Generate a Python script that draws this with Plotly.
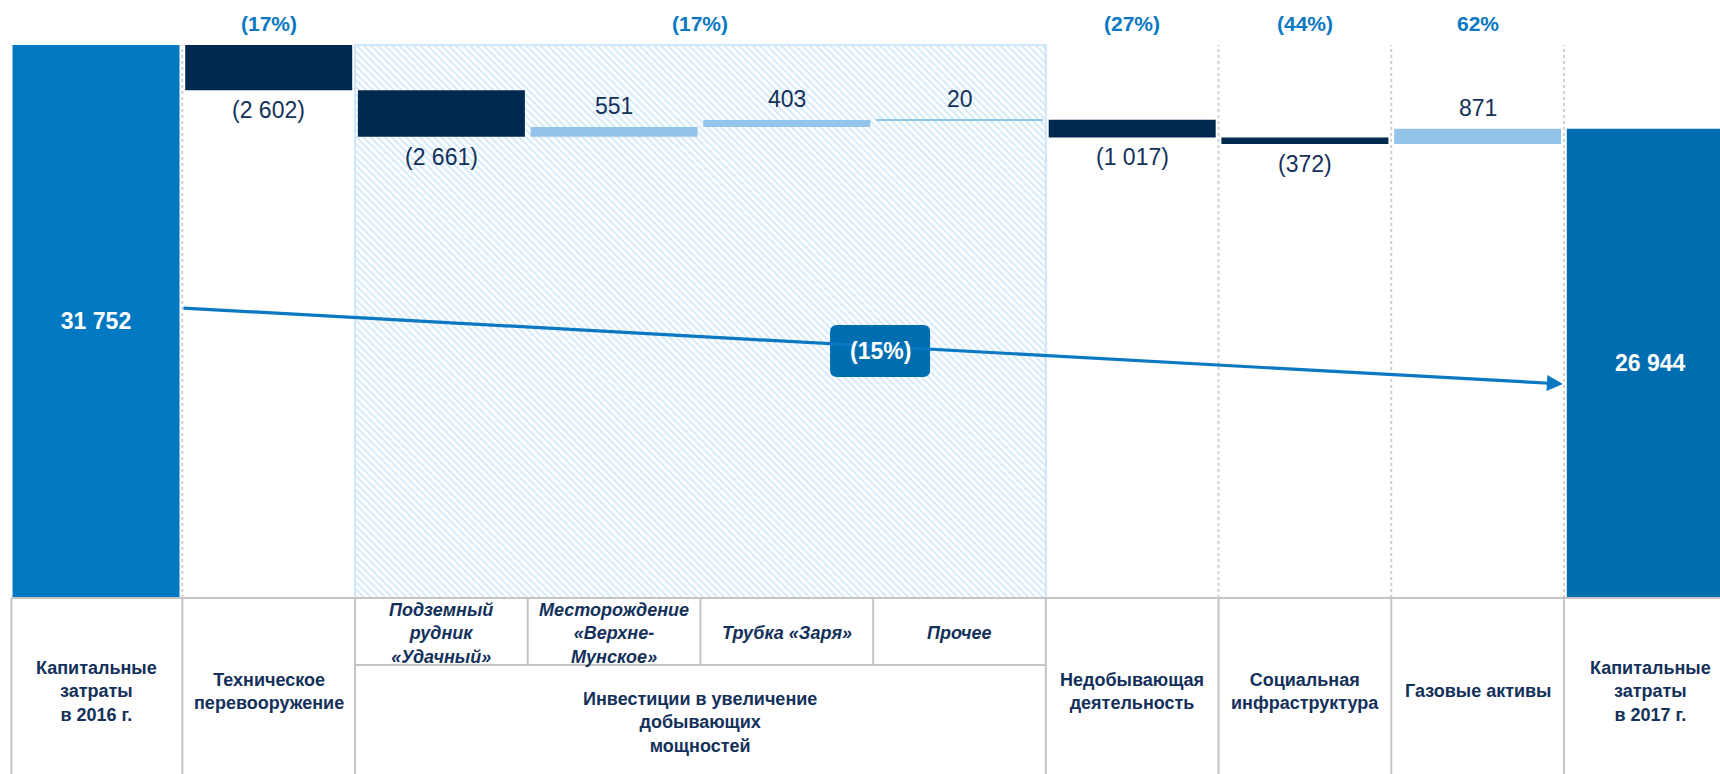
import plotly.graph_objects as go

# data
categories = [
    "Капитальные<br>затраты<br>в 2016 г.",
    "Техническое<br>перевооружение",
    "Подземный<br>рудник<br>«Удачный»",
    "Месторождение<br>«Верхне-<br>Мунское»",
    "Трубка «Заря»",
    "Прочее",
    "Недобывающая<br>деятельность",
    "Социальная<br>инфраструктура",
    "Газовые активы",
    "Капитальные<br>затраты<br>в 2017 г.",
]
group_label = "Инвестиции в увеличение<br>добывающих<br>мощностей"
start_total = 31752
end_total = 26944
deltas = [-2602, -2661, 551, 403, 20, -1017, -372, 871]
pct_labels = ["(17%)", "(17%)", "(27%)", "(44%)", "62%"]
pct_pos = [1, 3.5, 6, 7, 8]
change_label = "(15%)"

NAVY = "#00294F"
LIGHT = "#93C5EA"
BLUE1 = "#0079C2"
BLUE2 = "#006DB0"
PCT = "#0A78C2"
TXT = "#13305A"
GRID = "#C4C4C4"
FONT = "Liberation Sans, Arial, sans-serif"


def fmt(v):
    s = f"{abs(v):,}".replace(",", " ")
    return f"({s})" if v < 0 else s


# waterfall bases
bases = []
level = start_total
for d in deltas:
    bases.append(level)
    level += d

n = len(categories)
xs = list(range(n))
W = 0.967

fig = go.Figure()

# hatched background for the investment group
fig.add_trace(go.Bar(
    x=[3.5], y=[start_total], base=[0], width=[4],
    marker=dict(color="white", line=dict(color="#CFE7FA", width=2),
                pattern=dict(shape="\\", fgcolor="#ACD6F6", bgcolor="white",
                             size=5, solidity=0.42)),
    hoverinfo="skip", showlegend=False,
))

# totals
fig.add_trace(go.Bar(
    x=[0, n - 1], y=[start_total, end_total], width=W,
    marker=dict(color=[BLUE1, BLUE2], line=dict(width=0)),
    text=[fmt(start_total), fmt(end_total)], textposition="inside",
    insidetextanchor="middle",
    textfont=dict(color="white", size=23, family=FONT, weight="bold"),
    hoverinfo="skip", showlegend=False,
))

# deltas
fig.add_trace(go.Bar(
    x=xs[1:-1], y=deltas, base=bases, width=W,
    marker=dict(color=[NAVY if d < 0 else LIGHT for d in deltas], line=dict(width=0)),
    hoverinfo="skip", showlegend=False,
))

for i, (b, d) in enumerate(zip(bases, deltas)):
    fig.add_annotation(
        x=i + 1, y=b + d, text=fmt(d), showarrow=False,
        yanchor="middle", yshift=-20 if d < 0 else 21,
        font=dict(size=23, color=TXT, family=FONT),
    )

# percentage labels on top
for t, p in zip(pct_labels, pct_pos):
    fig.add_annotation(
        x=p, y=0.969, yref="paper", yanchor="middle", text=f"<b>{t}</b>",
        showarrow=False, font=dict(size=21, color=PCT, family=FONT),
    )

# dotted separators
for bx in [0.5, 6.5, 7.5, 8.5]:
    fig.add_shape(type="line", x0=bx, x1=bx, y0=0, y1=start_total,
                  line=dict(color="#D0D0D0", width=2, dash="dot"), layer="below")

# trend arrow
fig.add_annotation(
    x=8.494, y=12288, ax=0.498, ay=16651, axref="x", ayref="y",
    showarrow=True, arrowhead=2, arrowsize=1, arrowwidth=3.2,
    arrowcolor=PCT, text="",
)

# rounded box with change label
r = 7
bw, bh = 50, 26
path = (f"M {-bw + r},{-bh} L {bw - r},{-bh} Q {bw},{-bh} {bw},{-bh + r} "
        f"L {bw},{bh - r} Q {bw},{bh} {bw - r},{bh} L {-bw + r},{bh} "
        f"Q {-bw},{bh} {-bw},{bh - r} L {-bw},{-bh + r} Q {-bw},{-bh} {-bw + r},{-bh} Z")
fig.add_shape(type="path", path=path, xsizemode="pixel", ysizemode="pixel",
              xanchor=4.54, yanchor=14182, fillcolor=BLUE2, line=dict(width=0))
fig.add_annotation(x=4.54, y=14182, text=f"<b>{change_label}</b>", showarrow=False,
                   font=dict(size=23, color="white", family=FONT))

# table below the chart
y_bot = -10106
y_sub = -3847
fig.add_shape(type="line", x0=-0.49, x1=9.5, y0=0, y1=0, line=dict(color=GRID, width=2))
for bx in [-0.49, 0.5, 1.5, 5.5, 6.5, 7.5, 8.5]:
    fig.add_shape(type="line", x0=bx, x1=bx, y0=0, y1=y_bot, line=dict(color=GRID, width=2))
for bx in [2.5, 3.5, 4.5]:
    fig.add_shape(type="line", x0=bx, x1=bx, y0=0, y1=y_sub, line=dict(color=GRID, width=2))
fig.add_shape(type="line", x0=1.5, x1=5.5, y0=y_sub, y1=y_sub, line=dict(color=GRID, width=2))

for i, c in enumerate(categories):
    if 2 <= i <= 5:
        fig.add_annotation(x=i, y=-2010, text=f"<b><i>{c}</i></b>", showarrow=False,
                           font=dict(size=18, color=TXT, family=FONT))
    else:
        fig.add_annotation(x=i, y=-5340, text=f"<b>{c}</b>", showarrow=False,
                           font=dict(size=18, color=TXT, family=FONT))
fig.add_annotation(x=3.5, y=-7177, text=f"<b>{group_label}</b>", showarrow=False,
                   font=dict(size=18, color=TXT, family=FONT))

fig.update_layout(
    width=1720, height=774,
    margin=dict(l=0, r=0, t=0, b=0),
    barmode="overlay",
    paper_bgcolor="white",
    plot_bgcolor="white",
    showlegend=False,
    xaxis=dict(visible=False, range=[-0.5559, 9.4036], fixedrange=True),
    yaxis=dict(visible=False, range=[-10106, 34336], fixedrange=True),
    font=dict(family=FONT),
)

fig.write_html(
    "out.html",
    config={"displayModeBar": False},
    post_script="document.body.style.margin='0';document.body.style.overflow='hidden';",
)
